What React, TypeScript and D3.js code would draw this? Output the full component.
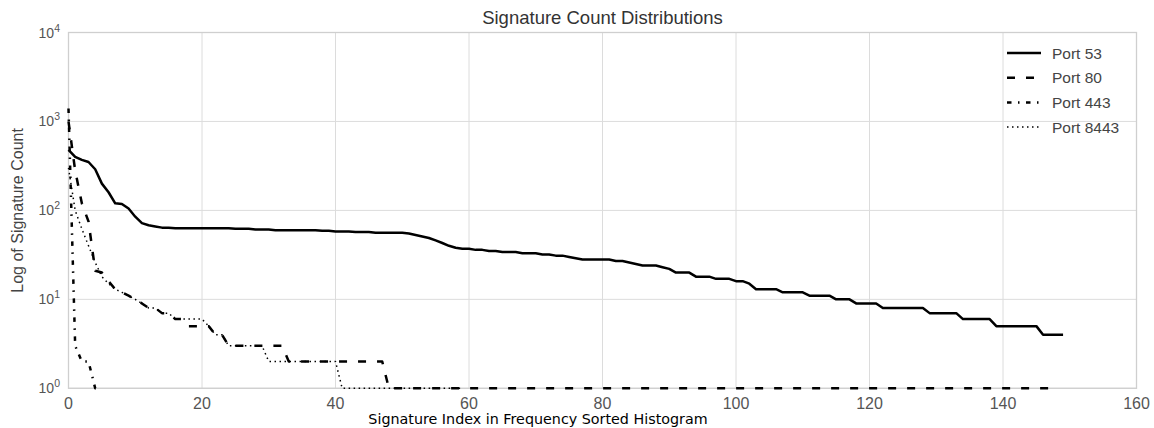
import React from "react";
import * as d3 from "d3";

const xTicks = [0, 20, 40, 60, 80, 100, 120, 140, 160];
const yTickExps = [0, 1, 2, 3, 4];

const port53 = [
  480, 400, 370, 350, 290, 200, 160, 120, 118, 105,
  85, 72, 68, 66, 64, 64, 63, 63, 63, 63,
  63, 63, 63, 63, 63, 62, 62, 62, 61, 61,
  61, 60, 60, 60, 60, 60, 60, 60, 59, 59,
  58, 58, 58, 57, 57, 57, 56, 56, 56, 56,
  56, 55, 53, 51, 49, 46, 43, 40, 38, 37,
  37, 36, 36, 35, 35, 34, 34, 34, 33, 33,
  33, 32, 32, 31, 31, 30, 29, 28, 28, 28,
  28, 28, 27, 27, 26, 25, 24, 24, 24, 23,
  22, 20, 20, 20, 18, 18, 18, 17, 17, 17,
  16, 16, 15, 13, 13, 13, 13, 12, 12, 12,
  12, 11, 11, 11, 11, 10, 10, 10, 9, 9,
  9, 9, 8, 8, 8, 8, 8, 8, 8, 7,
  7, 7, 7, 7, 6, 6, 6, 6, 6, 5,
  5, 5, 5, 5, 5, 5, 4, 4, 4, 4,
];

const port80Head = [
  1000, 280, 120, 75, 21, 20, 16, 13, 12, 11,
  10, 9, 8, 8, 7, 7, 6, 6, 5, 5,
  5, 5, 4, 4, 3, 3, 3, 3, 3, 3,
  3, 3, 3, 2, 2, 2, 2, 2, 2, 2,
  2, 2, 2, 2, 2, 2, 2, 2,
];
const port80TailOnes = 101; // indices 48..148 at count 1
const port80 = [...port80Head, ...Array(port80TailOnes).fill(1)];

const port443 = [1400, 3, 2, 2, 1, 1];

const port8443Head = [
  300, 100, 62, 40, 26, 18, 15, 13, 12, 11,
  10, 9, 8, 8, 7, 7, 6, 6, 6, 6,
  6, 5, 4, 4, 3, 3, 3, 3, 3, 3,
  2, 2, 2, 2, 2, 2, 2, 2, 2, 2,
  2,
];
const port8443TailOnes = 19; // indices 41..59 at count 1
const port8443 = [...port8443Head, ...Array(port8443TailOnes).fill(1)];

const seriesNames = ["Port 53", "Port 80", "Port 443", "Port 8443"];
const seriesData = [port53, port80, port443, port8443];

const W = 1154;
const H = 428;
const L = 68.5;
const R = 1136.5;
const T = 32.5;
const B = 388.3;

const styles = [
  { width: 2.5, dash: "" },
  { width: 2.5, dash: "8,11" },
  { width: 2.5, dash: "4.5,6.5,1.5,6.5" },
  { width: 1.5, dash: "1.5,3.5" },
];

export default function App() {
  const x = d3.scaleLinear().domain([0, 160]).range([L, R]);
  const y = d3.scaleLog().domain([1, 10000]).range([B, T]);
  const line = d3
    .line<number>()
    .x((_, i) => x(i))
    .y((d) => y(d));

  const sans = "'Liberation Sans', Arial, sans-serif";
  const grid = "#dcdcdc";

  return (
    <svg
      width={W}
      height={H}
      style={{ position: "absolute", left: 0, top: 0, background: "#fff" }}
    >
      <rect x={0} y={0} width={W} height={H} fill="#fff" />
      {xTicks.map((t) => (
        <line key={"gx" + t} x1={x(t)} x2={x(t)} y1={T} y2={B} stroke={grid} strokeWidth={1} />
      ))}
      {yTickExps.map((e) => (
        <line
          key={"gy" + e}
          x1={L}
          x2={R}
          y1={y(Math.pow(10, e))}
          y2={y(Math.pow(10, e))}
          stroke={grid}
          strokeWidth={1}
        />
      ))}
      <rect x={L} y={T} width={R - L} height={B - T} fill="none" stroke="#cfcfcf" strokeWidth={1.3} />

      {seriesData.map((d, k) => (
        <path
          key={"s" + k}
          d={line(d) || ""}
          fill="none"
          stroke="#000"
          strokeWidth={styles[k].width}
          strokeDasharray={styles[k].dash || undefined}
          strokeLinejoin="round"
        />
      ))}

      {xTicks.map((t) => (
        <text
          key={"tx" + t}
          x={x(t)}
          y={B + 21}
          textAnchor="middle"
          fontFamily={sans}
          fontSize={16}
          fill="#555"
        >
          {t}
        </text>
      ))}
      {yTickExps.map((e) => (
        <text
          key={"ty" + e}
          x={60}
          y={y(Math.pow(10, e)) + 5}
          textAnchor="end"
          fontFamily={sans}
          fontSize={14}
          fill="#555"
        >
          10
          <tspan fontSize={10.5} dy={-6}>
            {e}
          </tspan>
        </text>
      ))}

      <text
        x={(L + R) / 2}
        y={24}
        textAnchor="middle"
        fontFamily={sans}
        fontSize={18.5}
        fill="#333"
      >
        Signature Count Distributions
      </text>
      <text
        transform={`translate(23,${(T + B) / 2}) rotate(-90)`}
        textAnchor="middle"
        fontFamily={sans}
        fontSize={16}
        fill="#444"
      >
        Log of Signature Count
      </text>
      <text
        x={538}
        y={424}
        textAnchor="middle"
        fontFamily="'DejaVu Sans', sans-serif"
        fontSize={14.3}
        fill="#000"
      >
        Signature Index in Frequency Sorted Histogram
      </text>

      {seriesNames.map((n, k) => {
        const ly = 53 + k * 24.7;
        return (
          <g key={"lg" + k}>
            <line
              x1={1007}
              x2={1041}
              y1={ly}
              y2={ly}
              stroke="#000"
              strokeWidth={styles[k].width}
              strokeDasharray={styles[k].dash || undefined}
            />
            <text x={1052} y={ly + 5.5} fontFamily={sans} fontSize={15.5} fill="#444">
              {n}
            </text>
          </g>
        );
      })}
    </svg>
  );
}
